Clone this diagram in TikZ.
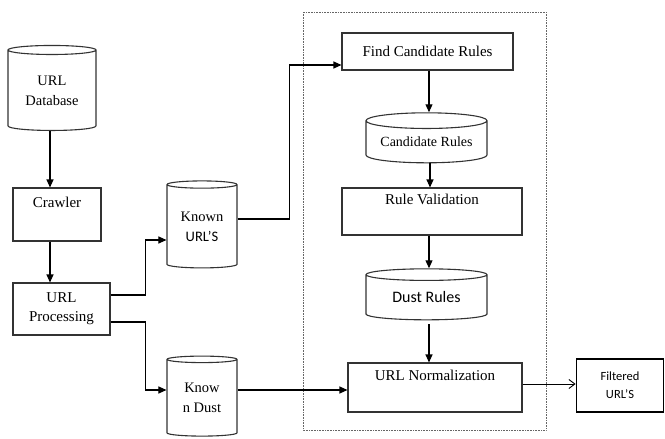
\documentclass[tikz,border=0pt]{standalone}
\usepackage{fontspec}
\setmainfont{LiberationSerif}[Extension=.ttf,UprightFont=*-Regular,BoldFont=*-Bold]
\newfontfamily\tnr{LiberationSerif}[Extension=.ttf,UprightFont=*-Regular]
\newfontfamily\calib{Carlito}
\usetikzlibrary{arrows.meta,positioning,shapes.geometric}
\tikzset{
  >={Triangle[length=8pt,width=7pt]},
  % boxes
  pb/.style={rectangle,draw=black!80,line width=1.1pt,inner sep=0pt,align=center,
             font=\tnr\fontsize{15}{19}\selectfont},
  db/.style={cylinder,shape border rotate=90,aspect=0.17,draw=black!80,
             line width=1.1pt,inner sep=0pt,align=center,
             font=\tnr\fontsize{14.5}{20}\selectfont},
  outb/.style={rectangle,draw=black,line width=1.8pt,inner sep=0pt,align=center,
             font=\calib\fontsize{12.5}{18}\selectfont},
  grp/.style={draw=black!60,line width=0.6pt,densely dotted},
  % arrows
  fe/.style={->,draw=black,line width=1.1pt},
  fo/.style={-{Straight Barb[length=6pt,width=9pt]},draw=black,line width=0.9pt},
}
\begin{document}
\begin{tikzpicture}[x=1pt,y=-1pt]
\useasboundingbox (0,0) rectangle (665,439);
  % frame of the rule part
  \draw[grp] (303,12) rectangle (546,430);
  \node[db,minimum width=88pt,minimum height=85pt] (urldb) at (52,90.5) {URL\\Database};
  \node[pb,minimum width=88pt,minimum height=53pt] (crawler) at (57,214.5) {Crawler\\\strut};
  \node[pb,minimum width=97pt,minimum height=52pt] (urlproc) at (61.5,309) {URL\\Processing};
  \node[db,minimum width=70pt,minimum height=87pt] (knownurl) at (202,226.5) {Known\\{\calib URL’S}};
  \node[db,minimum width=70pt,minimum height=80pt] (knowndust) at (202,398) {Know\\n Dust};
  \node[pb,minimum width=171pt,minimum height=37pt] (findcand) at (427.5,51.5) {Find Candidate Rules};
  \node[db,minimum width=121pt,minimum height=50pt,font=\tnr\fontsize{14}{18}\selectfont] (candrules) at (426.5,142) {Candidate Rules};
  \node[pb,minimum width=180pt,minimum height=47pt] (rulevalid) at (432,211.5) {Rule Validation\\\strut};
  \node[db,minimum width=121pt,minimum height=51pt,font=\calib\fontsize{16}{18}\selectfont] (dustrules) at (426.5,297.5) {Dust Rules};
  \node[pb,minimum width=174pt,minimum height=49pt] (urlnorm) at (435,387.5) {URL Normalization\\\strut};
  \node[outb,minimum width=87pt,minimum height=53pt] (filtered) at (620,385.5) {Filtered\\URL’S};
  % left column
  \draw[fe] ([xshift=-2pt]urldb.south) -- ([xshift=-2pt]urldb.south |- crawler.north);
  \draw[fe] ([xshift=-7pt]crawler.south) -- ([xshift=-7pt]crawler.south |- urlproc.north);
  \coordinate (ku) at ([yshift=-13.5pt]knownurl.west);
  \coordinate (kd) at ([yshift=8pt]knowndust.west);
  \draw[fe] ([yshift=14pt]urlproc.east) -- ++(35,0) |- (ku);
  \draw[fe] ([yshift=-13pt]urlproc.east) -- ++(35,0) |- (kd);
  \draw[fe] ([yshift=7.5pt]knownurl.east) -- ++(52,0) |- ([yshift=-13.5pt]findcand.west);
  % rule part
  \draw[fe] ([xshift=1.5pt]findcand.south) -- ([xshift=1.5pt]findcand.south |- candrules.north);
  \draw[fe] ([xshift=3.5pt]candrules.south) -- ([xshift=3.5pt]candrules.south |- rulevalid.north);
  \draw[fe] ([xshift=2.5pt]dustrules.north |- rulevalid.south) -- ([xshift=2.5pt]dustrules.north);
  \draw[fe,shorten <=4pt] ([xshift=2.5pt]dustrules.south) -- ([xshift=2.5pt]dustrules.south |- urlnorm.north);
  \draw[fe] ([yshift=8pt]knowndust.east) -- ([yshift=8pt]knowndust.east -| urlnorm.west);
  \draw[fo] ([yshift=3.5pt]urlnorm.east) -- ([yshift=3.5pt]urlnorm.east -| filtered.west);
\end{tikzpicture}
\end{document}
